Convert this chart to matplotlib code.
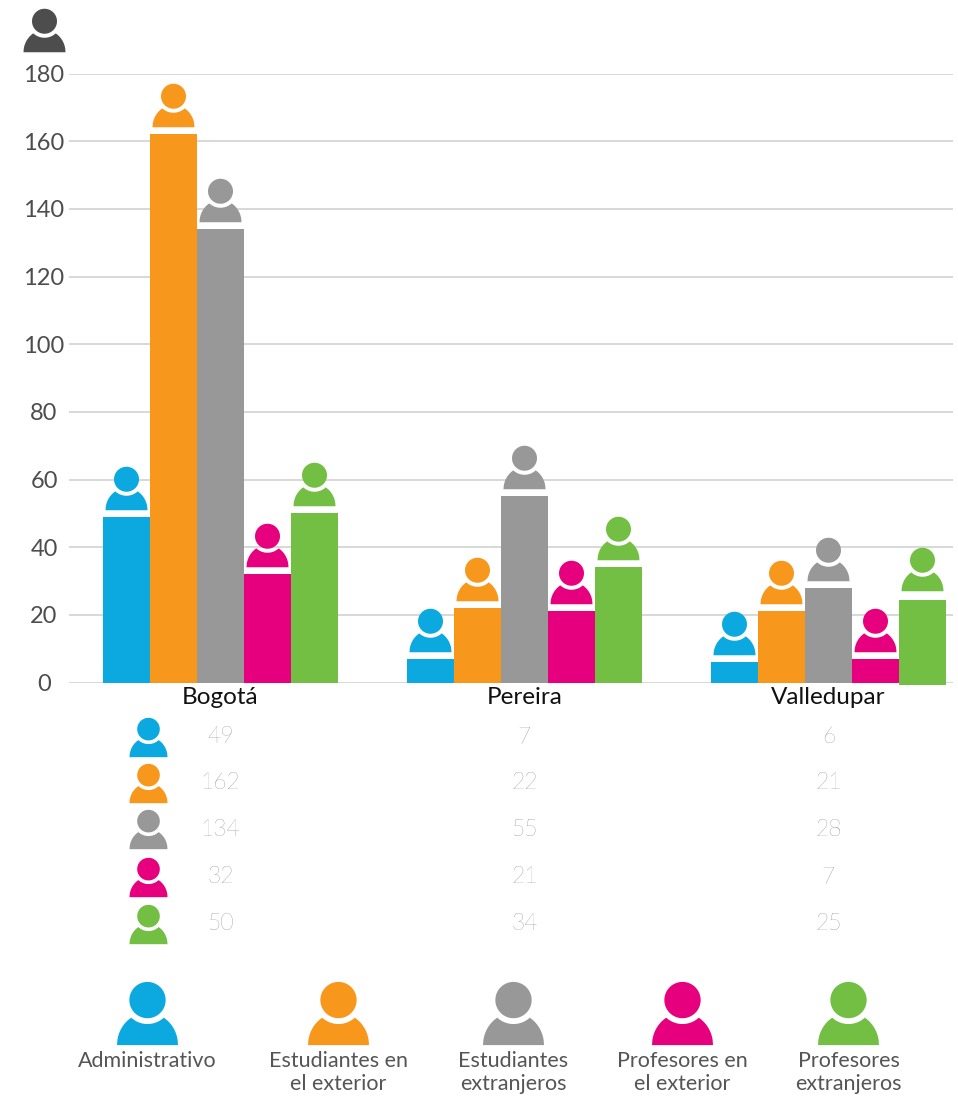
import numpy as np
import matplotlib
matplotlib.use('Agg')
import matplotlib.pyplot as plt
from matplotlib.path import Path
from matplotlib.transforms import ScaledTranslation, blended_transform_factory

plt.rcParams['font.family'] = ['Lato', 'DejaVu Sans']

ciudades = ['Bogotá', 'Pereira', 'Valledupar']
categorias = ['Administrativo', 'Estudiantes en\nel exterior', 'Estudiantes\nextranjeros',
              'Profesores en\nel exterior', 'Profesores\nextranjeros']
administrativo = [49, 7, 6]
est_exterior = [162, 22, 21]
est_extranjeros = [134, 55, 28]
prof_exterior = [32, 21, 7]
prof_extranjeros = [50, 34, 25]
series = [administrativo, est_exterior, est_extranjeros, prof_exterior, prof_extranjeros]
colores = ['#0BA9E0', '#F7981D', '#989898', '#E6007E', '#72BF44']
yticks = list(range(0, 181, 20))

W, H = 958, 1104
DPI = 100
PX = 72 / DPI


def person_icon():
    # silueta: cabeza + hombros, ancho 2 unidades
    t = np.linspace(0, 2 * np.pi, 80)
    hr, hy = 12.5 / 21, 31 / 21
    head = np.c_[hr * np.cos(t), hy + hr * np.sin(t)]
    rr = 16.5 / 21
    b = 22.3 / 21
    # corte entre el hombro (elipse) y el aro blanco alrededor de la cabeza
    xs = np.linspace(0, 1, 2000)
    ell = b * np.sqrt(1 - xs ** 2)
    ring = hy - np.sqrt(np.maximum(rr ** 2 - xs ** 2, 0))
    xc = xs[np.argmin(np.abs(ell - ring))]
    xe = np.linspace(-1, -xc, 40)
    left = np.c_[xe, b * np.sqrt(1 - xe ** 2)]
    xr = np.linspace(-xc, xc, 30)
    notch = np.c_[xr, hy - np.sqrt(rr ** 2 - xr ** 2)]
    right = np.c_[-xe[::-1], b * np.sqrt(1 - xe[::-1] ** 2)]
    body = np.vstack([left, notch, right, [[1, 0]], [[-1, 0]]])
    top = hy + hr
    mid = top / 2
    body = body - [0, mid]
    head = head - [0, mid]
    verts = np.vstack([body, head])
    codes = [Path.MOVETO] + [Path.LINETO] * (len(body) - 1) + [Path.MOVETO] + [Path.LINETO] * (len(head) - 1)
    return Path(verts, codes), max(mid, 1.0)


ICON, ICON_MAX = person_icon()


def icon_size(width_px):
    # matplotlib reescala el path a su valor absoluto maximo
    return width_px * PX * ICON_MAX


fig = plt.figure(figsize=(W / DPI, H / DPI), dpi=DPI)

# capa en pixeles para iconos y textos sueltos
over = fig.add_axes([0, 0, 1, 1], zorder=3)
over.set_xlim(0, W)
over.set_ylim(H, 0)
over.axis('off')

ax = fig.add_axes([69 / W, 1 - 682.5 / H, (953 - 69) / W, (682.5 - 73.5) / H], zorder=2)
ax.patch.set_alpha(0)
ax.set_ylim(0, 180)
ax.set_xlim(-151.5 / 304, 732.5 / 304)
for s in ax.spines.values():
    s.set_visible(False)
ax.set_yticks(yticks)
ax.set_yticklabels(yticks, fontsize=17, color='#4d4d4d', ha='center')
ax.tick_params(axis='y', length=0, pad=18)
ax.yaxis.grid(True, color='#d9d9d9', lw=2 * PX, zorder=0)
ax.set_axisbelow(True)
ax.spines['bottom'].set_visible(False)
ax.set_xticks(range(len(ciudades)))
ax.set_xticklabels(ciudades, fontsize=17.5, color='#111111')
ax.tick_params(axis='x', length=0, pad=3)
for lab in ax.get_xticklabels():
    lab.set_clip_on(False)

x = np.arange(len(ciudades))
ancho = 47 / 304
sube = ScaledTranslation(0, 29 / DPI, fig.dpi_scale_trans)
for i, (vals, col) in enumerate(zip(series, colores)):
    pos = x + (i - 2) * ancho
    bars = ax.bar(pos, vals, ancho, color=col, zorder=2, clip_on=False, lw=0)
    ax.plot(pos, vals, ls='none', marker=ICON, ms=icon_size(42), mfc=col, mew=0,
            transform=ax.transData + sube, zorder=3, clip_on=False)
# la ultima barra baja un poco del eje en el original
bars[2].set_y(-0.7)

# icono del eje y
over.plot([44.5], [30], ls='none', marker=ICON, ms=icon_size(42), mfc='#4d4d4d', mew=0, clip_on=False)

# tabla de valores
filas_y = [736.5, 782.5, 829, 876.5, 924]
col_trans = blended_transform_factory(ax.transData, over.transData)
for vals, col, fy in zip(series, colores, filas_y):
    over.plot([148], [fy], ls='none', marker=ICON, ms=icon_size(38), mfc=col, mew=0, clip_on=False)
    for xi, v in zip(x, vals):
        over.text(xi, fy, str(v), transform=col_trans, ha='center', va='center', fontsize=16.5,
                  color='#666666', fontweight='light')

# leyenda
leyenda_x = [147.5, 338.5, 513.5, 682, 848.5]
for lx, col, nombre in zip(leyenda_x, colores, categorias):
    over.plot([lx], [1013], ls='none', marker=ICON, ms=icon_size(61), mfc=col, mew=0, clip_on=False)
    over.text(lx, 1051, nombre, ha='center', va='top', fontsize=15.5, color='#555555', linespacing=1.2)

fig.savefig('out.png', dpi=DPI)
